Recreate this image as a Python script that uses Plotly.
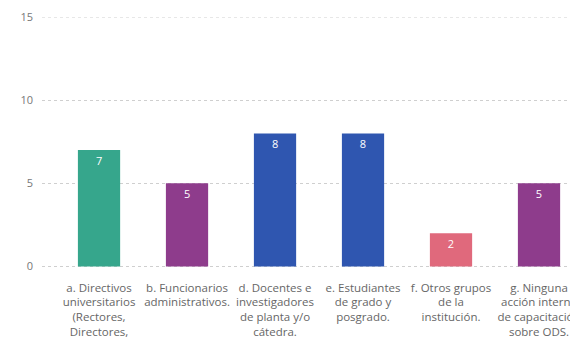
import plotly.graph_objects as go

categories = [
    "a. Directivos<br>universitarios<br>(Rectores,<br>Directores,",
    "b. Funcionarios<br>administrativos.",
    "d. Docentes e<br>investigadores<br>de planta y/o<br>cátedra.",
    "e. Estudiantes<br>de grado y<br>posgrado.",
    "f. Otros grupos<br>de la<br>institución.",
    "g. Ninguna<br>acción interna<br>de capacitación<br>sobre ODS.",
]
values = [7, 5, 8, 8, 2, 5]
colors = ["#36A68C", "#8E3C8C", "#2F56B0", "#2F56B0", "#E0697C", "#8E3C8C"]
y_ticks = [0, 5, 10, 15]

fig = go.Figure(
    go.Bar(
        x=categories,
        y=values,
        marker=dict(color=colors, line=dict(width=0)),
        width=0.48,
        text=[str(v) for v in values],
        textposition="inside",
        insidetextanchor="end",
        textfont=dict(color="white", size=11, family="Open Sans"),
        cliponaxis=False,
    )
)

for yv in (0, 15):
    fig.add_shape(
        type="line", xref="paper", yref="y", x0=0, x1=1, y0=yv, y1=yv,
        line=dict(color="#CFCFCF", width=1, dash="dot"), layer="below",
    )

fig.update_layout(
    width=578,
    height=338,
    margin=dict(l=34, r=0, t=9, b=79, autoexpand=False),
    paper_bgcolor="white",
    plot_bgcolor="white",
    showlegend=False,
    font=dict(family="Open Sans", size=11, color="#666666"),
    xaxis=dict(
        range=[-0.648, 5.534],
        showgrid=False,
        showline=False,
        zeroline=False,
        ticks="",
        automargin=False,
        ticklabelstandoff=12,
        tickfont=dict(size=11.5, color="#666666"),
        tickangle=0,
    ),
    yaxis=dict(
        range=[-0.03, 15],
        tickvals=y_ticks,
        showgrid=True,
        gridcolor="#CFCFCF",
        griddash="dot",
        gridwidth=1,
        zeroline=False,
        showline=False,
        ticks="",
        automargin=False,
        ticklabelstandoff=8,
        tickfont=dict(size=11, color="#777777"),
    ),
)

fig.write_html("out.html")
